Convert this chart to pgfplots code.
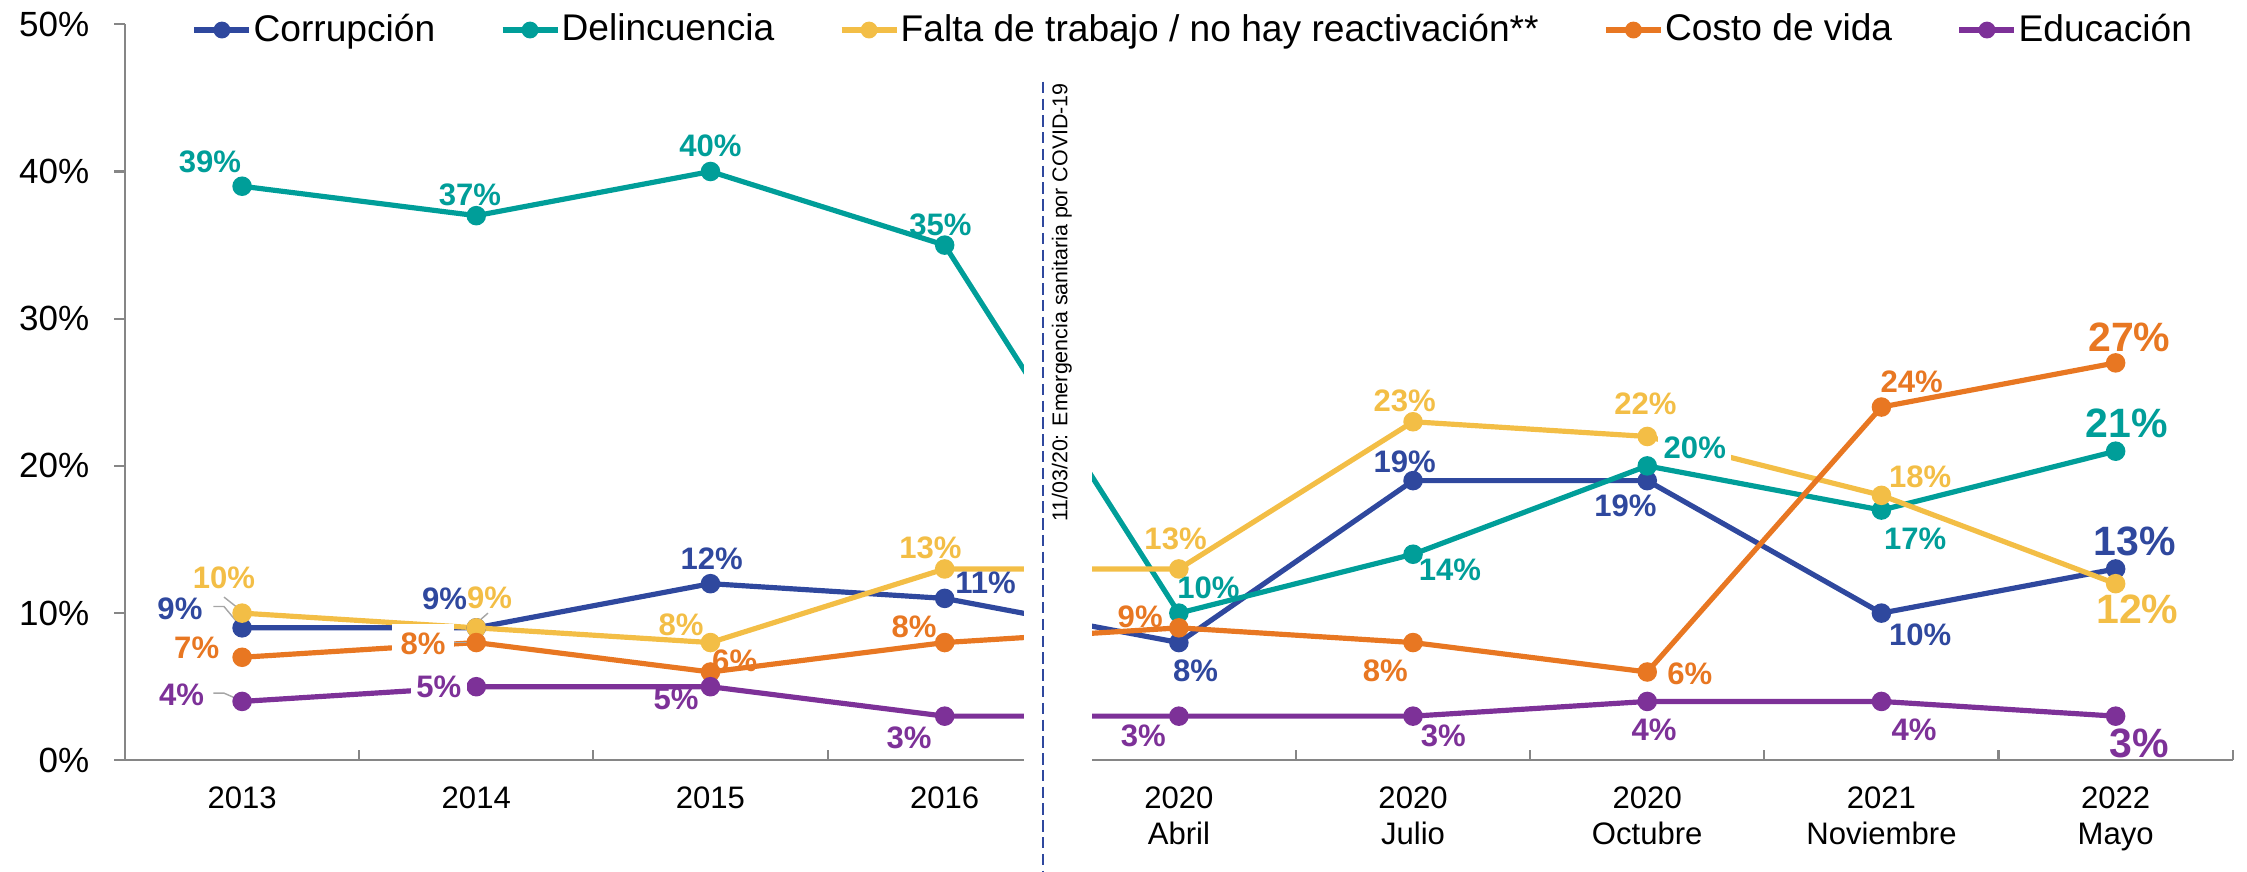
\documentclass[border=0pt]{standalone}
\usepackage{fontspec}
\setmainfont{Liberation Sans}
\usepackage{pgfplots}
\usepackage{pgfplotstable}
\pgfplotsset{compat=1.18}
\definecolor{corr}{RGB}{47,72,158}
\definecolor{delin}{RGB}{0,158,153}
\definecolor{falta}{RGB}{243,190,70}
\definecolor{costo}{RGB}{232,119,34}
\definecolor{educ}{RGB}{125,49,152}
\definecolor{axgray}{RGB}{134,134,134}
\definecolor{leadgray}{RGB}{166,166,166}

% x y label-offset(dx,dy) scale fill-opacity inner-sep
\pgfplotstableread{
x y dx dy sc fo is
0 9 -43.4 13.3 1 0 1
1 9 -22.2 20.1 1 1 1.2
2 12 0.9 17.2 1 0 1
3 11 28.6 11.1 1 0 1
4 8 11.6 -20 1 0 1
5 19 -5.8 13 1 0 1
6 19 -15.2 -17.5 1 0 1
7 10 27.1 -15 1 0 1
8 13 13.5 19.2 1.32 0 1
}\corr
\pgfplotstableread{
x y dx dy sc fo is
0 39 -22.5 16.7 1 0 1
1 37 -4.4 14.7 1 0 1
2 40 0 18 1 0 1
3 35 -3 14 1 0 1
4 10 20.6 17.6 1 0 1
5 14 25.7 -10.8 1 0 1
6 20 33.2 12.9 1 1 1.5
7 17 23.6 -20 1 0 1
8 21 7.6 19.1 1.32 0 1
}\delin
\pgfplotstableread{
x y dx dy sc fo is
0 10 -12.7 24.6 1 0 1
1 9 9.3 21.2 1 0 1
2 8 -20.6 12.3 1 0 1
3 13 -9.9 15 1 0 1
4 13 -2.3 21.2 1 0 1
5 23 -5.8 14.4 1 0 1
6 22 -1.3 22.9 1 0 1
7 18 27.1 13 1 0 1
8 12 15.1 -18.2 1.32 0 1
}\falta
\pgfplotstableread{
x y dx dy sc fo is
0 7 -31.7 6.5 1 0 1
1 8 -37.2 -0.9 1 1 2.4
2 6 16.9 8.1 1 0 1
3 8 -21.4 10.7 1 0 1
4 9 -27 7.5 1 0 1
5 8 -19.3 -20 1 0 1
6 6 29.7 -1.1 1 0 1
7 24 21.1 17.6 1 0 1
8 27 9.5 17.7 1.32 0 1
}\costo
\pgfplotstableread{
x y dx dy sc fo is
0 4 -42.2 4.6 1 0 1
1 5 -26.2 -0.2 1 1 1.5
2 5 -24.1 -8.6 1 0 1
3 3 -24.9 -15.3 1 0 1
4 3 -24.9 -13.7 1 0 1
5 3 21.1 -13.7 1 0 1
6 4 4.7 -20 1 0 1
7 4 22.7 -20 1 0 1
8 3 16.5 -18.8 1.32 0 1
}\educ

\pgfplotsset{
  serie/.style={color=#1, line width=1.45pt, mark=*, mark size=2pt, mark options={solid, fill=#1}},
  lbl/.style={only marks, mark=text, text mark={}, forget plot, point meta=y,
    visualization depends on={\thisrow{dx}\as\dx},
    visualization depends on={\thisrow{dy}\as\dy},
    visualization depends on={\thisrow{sc}\as\sc},
    visualization depends on={\thisrow{fo}\as\fo},
    visualization depends on={\thisrow{is}\as\is},
    nodes near coords={\pgfmathprintnumber[assume math mode=true]{\pgfplotspointmeta}\%},
    every node near coord/.append style={text=#1, fill=white, fill opacity=\fo, text opacity=1,
      inner sep=\is pt, anchor=center, font=\bfseries\fontsize{8.7}{8.7}\selectfont,
      xshift={\dx*0.401pt}, yshift={\dy*0.401pt}, scale=\sc},
  },
}

\begin{document}
\begin{tikzpicture}
\useasboundingbox (-35pt,-31.2pt) rectangle (594.2pt,212.9pt);
\begin{axis}[
  at={(0,0)}, anchor=south west,
  scale only axis, width=590.2pt, height=206.1pt,
  xmin=-0.5, xmax=8.5, ymin=0, ymax=50,
  axis lines=left,
  axis line style={-, draw=axgray, line width=0.6pt},
  clip=false,
  xtick={-0.5,0.5,...,8.5},
  x tick label as interval,
  xticklabels={2013,2014,2015,2016,{2020\\Abril},{2020\\Julio},{2020\\Octubre},{2021\\Noviembre},{2022\\Mayo}},
  xticklabel style={align=center, font=\fontsize{8.7}{10.1}\selectfont, inner sep=0pt, anchor=north, yshift=-7.2pt},
  ytick={0,10,20,30,40,50},
  yticklabels={0\%,10\%,20\%,30\%,40\%,50\%},
  yticklabel style={font=\fontsize{9.8}{9.8}\selectfont, inner sep=0pt, anchor=east, xshift=-9.8pt},
  tick align=inside,
  major tick length=3pt,
  tick style={draw=axgray, line width=0.6pt},
  ytick style={xshift=-3pt},
  legend columns=-1,
  legend cell align=left,
  legend image code/.code={\draw[mark repeat=2,mark phase=2,#1,line width=1.5pt,mark size=1.6pt] plot coordinates {(0pt,0pt) (7.7pt,0pt) (15.4pt,0pt)};},
  legend style={at={(axis description cs:0.0327,0.9922)}, anchor=west, xshift=-0.6pt, draw=none, fill=none,
    inner sep=0pt, outer sep=0pt, font=\fontsize{10.4}{10.4}\selectfont, column sep=0pt,
    nodes={inner sep=0pt},
    /tikz/every odd column/.append style={column sep=0.4pt},
    /tikz/every even column/.append style={column sep=18.1pt}},
]
\addplot[serie=corr] table[x=x,y=y]{\corr};
\addlegendentry{Corrupción}
\addplot[serie=delin] table[x=x,y=y]{\delin};
\addlegendentry{Delincuencia}
\addplot[serie=falta] table[x=x,y=y]{\falta};
\addlegendentry{Falta de trabajo / no hay reactivación**}
\addplot[serie=costo] table[x=x,y=y]{\costo};
\addlegendentry{Costo de vida}
\addplot[serie=educ] table[x=x,y=y]{\educ};
\addlegendentry{Educación}

\fill[white] (axis cs:3.34,-0.4) rectangle (axis cs:3.63,48);

\addplot[lbl=corr] table[x=x,y=y]{\corr};
\addplot[lbl=delin] table[x=x,y=y]{\delin};
\addplot[lbl=falta] table[x=x,y=y]{\falta};
\addplot[lbl=costo] table[x=x,y=y]{\costo};
\addplot[lbl=educ] table[x=x,y=y]{\educ};

\draw[corr, line width=0.6pt, dash pattern=on 3.2pt off 1.5pt] (axis cs:3.42,46.1) -- (axis cs:3.42,-8);
\node[rotate=90, font=\fontsize{6}{6}\selectfont, inner sep=0pt] at (axis cs:3.5,31.1) {11/03/20: Emergencia sanitaria por COVID-19};

\draw[leadgray, line width=0.4pt] (axis cs:-0.0773,11.09) -- (axis cs:-0.012,10.27);
\draw[leadgray, line width=0.4pt] (axis cs:-0.123,10.45) -- (axis cs:-0.0773,10.45) -- (axis cs:-0.012,9.21);
\draw[leadgray, line width=0.4pt] (axis cs:-0.123,4.565) -- (axis cs:-0.0773,4.565) -- (axis cs:-0.012,4.11);
\draw[leadgray, line width=0.4pt] (axis cs:1.0,9.3) -- (axis cs:1.05,10.0);
\draw[leadgray, line width=0.4pt] (axis cs:0.894,8.0) -- (axis cs:0.97,8.0);
\end{axis}
\end{tikzpicture}
\end{document}
